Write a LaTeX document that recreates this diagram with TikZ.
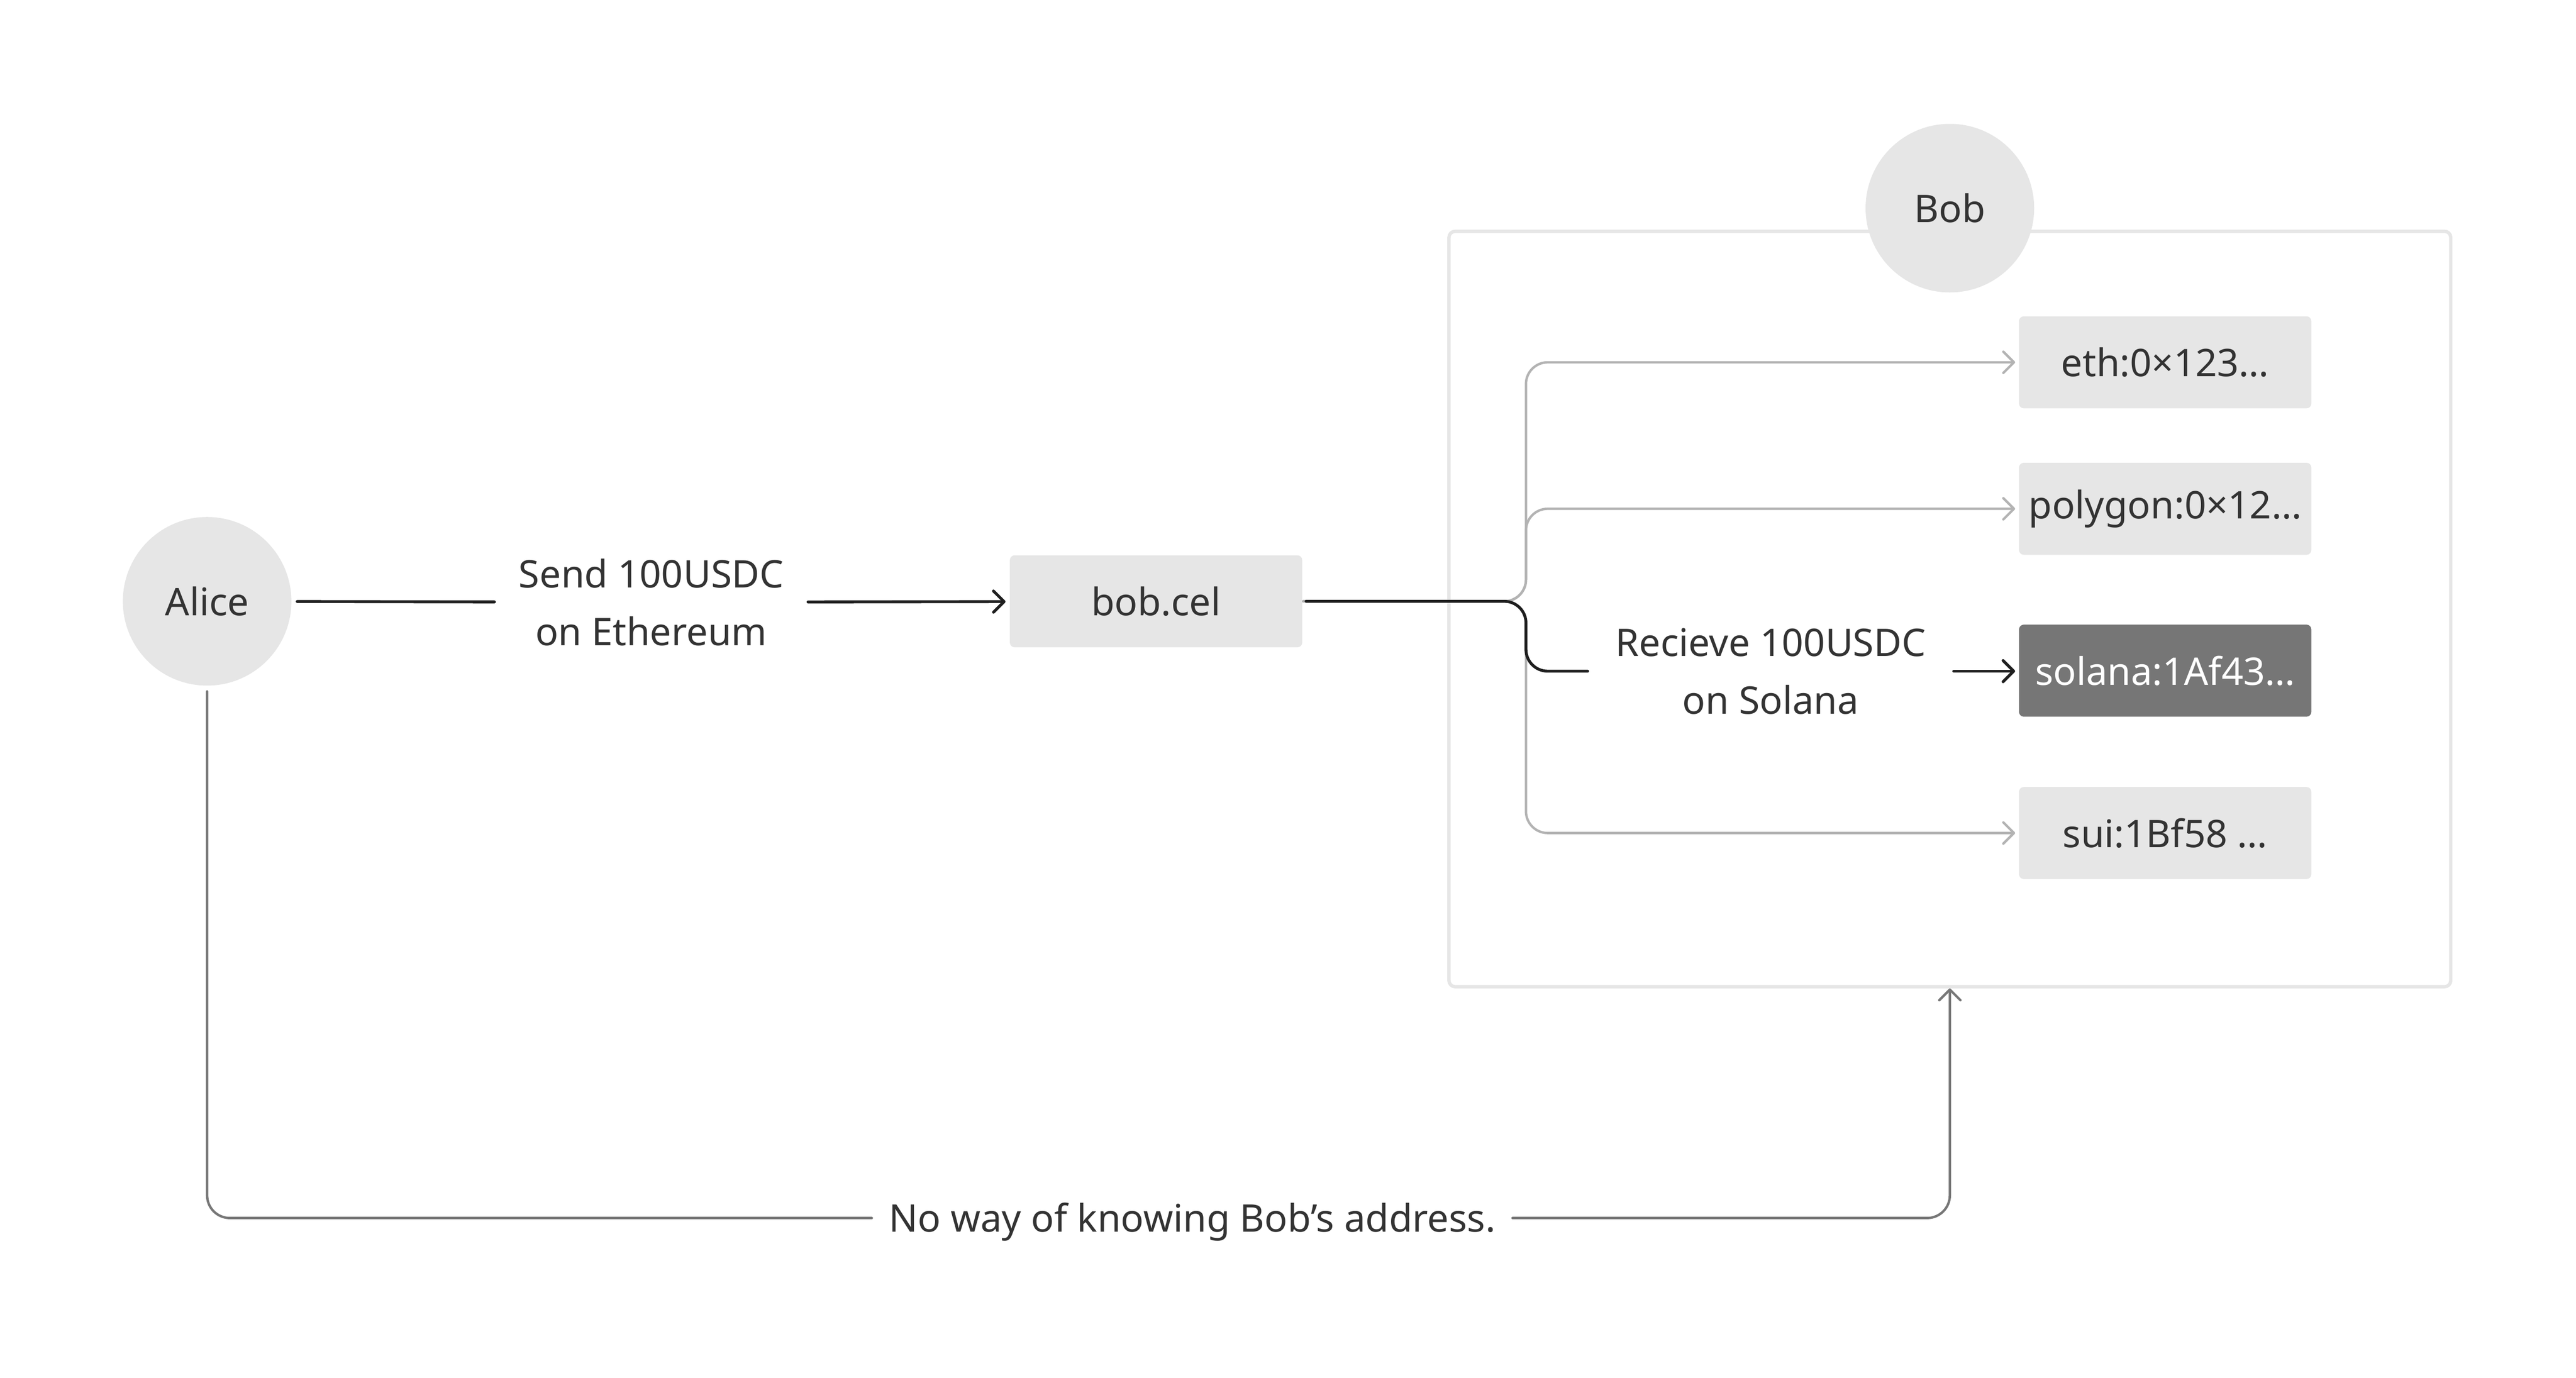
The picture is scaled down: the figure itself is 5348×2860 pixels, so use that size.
\documentclass[tikz,border=0pt]{standalone}
\usepackage{fontspec}
\setmainfont{Noto Sans}
\usetikzlibrary{positioning,arrows.meta}
\definecolor{softgray}{HTML}{E6E6E6}
\definecolor{textgray}{HTML}{333333}
\definecolor{wirecol}{HTML}{1E1E1E}
\definecolor{twigcol}{HTML}{B3B3B3}
\definecolor{hintcol}{HTML}{777777}
\definecolor{pickcol}{HTML}{767676}
\newcommand{\chosen}{pickcol}
\newcommand{\idle}{softgray}

\begin{document}
\begin{tikzpicture}[x=0.1pt,y=-0.1pt,
    >={Straight Barb[length=2.2pt,width=4.4pt,round]},
    every node/.style={font=\fontsize{7.9}{12}\selectfont, text=textgray},
    person/.style={circle, fill=\idle, minimum size=35pt, inner sep=0pt},
    slot/.style={rectangle, rounded corners=1pt, fill=\idle, minimum width=60.7pt, minimum height=19.1pt, inner sep=0pt},
    words/.style={align=center, inner sep=0pt},
    wire/.style={draw=wirecol, line width=0.6pt, line cap=round, rounded corners=4.5pt},
    twig/.style={draw=twigcol, line width=0.5pt, line cap=round, rounded corners=4.5pt, ->, shorten >=0.6pt},
    hint/.style={draw=hintcol, line width=0.5pt, line cap=round, rounded corners=4.7pt}]
    \useasboundingbox (0,0) rectangle (5348,2860);
    %\draw[help lines] (0,0) grid (5348,2860);
    \node[person] (alice) at (430,1248) {Alice};
    \node[words, minimum width=64.7pt] (send) at (1352,1250) {Send 100USDC\\on Ethereum};
    \node[slot] (bobcel) at (2400,1248) {bob.cel};
    \node[draw=softgray, line width=0.7pt, rounded corners=1.3pt, minimum width=208pt, minimum height=156.8pt] (wallet) at (4048,1264) {};
    \node[person] (bob) at (4048,432) {Bob};
    \node[slot] (eth) at (4495,752) {eth:0×123…};
    \node[slot, below=10.9pt of eth] (polygon) {polygon:0×12…};
    \node[slot, fill=\chosen, text=white, below=14.1pt of polygon] (solana) {solana:1Af43…};
    \node[slot, below=14.2pt of solana] (sui) {sui:1Bf58 …};
    \coordinate (fork) at (3168,1248);
    \node[words, minimum width=75.6pt] (recv) at (3676,1393) {Recieve 100USDC\\on Solana};
    \node[words, minimum width=132.6pt, text height=5.7pt, text depth=0pt] (note) at (2475,2528) {No way of knowing Bob’s address.};
    \draw[wire, shorten <=1pt] (alice) -- (send);
    \draw[wire, ->, shorten >=0.7pt] (send) -- (bobcel);
    \draw[twig] (bobcel) -- (fork) -- (fork |- eth) -- (eth);
    \draw[twig] (bobcel) -- (fork) -- (fork |- polygon) -- (polygon);
    \draw[twig] (bobcel) -- (fork) -- (fork |- sui) -- (sui);
    \draw[wire, shorten <=0.6pt] (bobcel) -- (fork) -- (fork |- recv) -- (recv);
    \draw[wire, ->, shorten >=0.6pt] (recv) -- (recv -| solana.west);
    \draw[hint, shorten <=1pt] (alice) -- (alice |- note) -- (note);
    \draw[hint, ->] (note) -- (note -| wallet.south) -- (wallet.south);
\end{tikzpicture}
\end{document}
